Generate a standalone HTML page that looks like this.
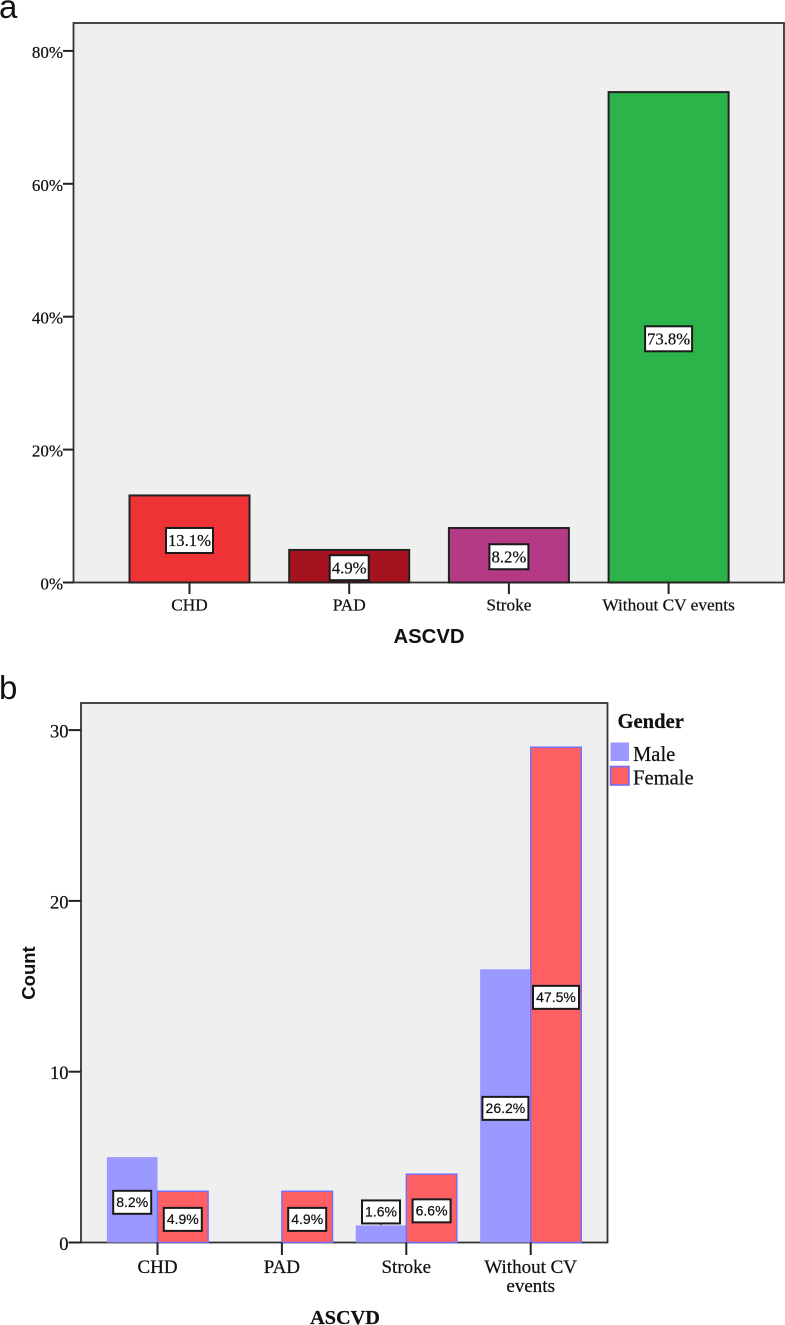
<!DOCTYPE html>
<html>
<head>
<meta charset="utf-8">
<title>ASCVD charts</title>
<style>
html,body{margin:0;padding:0;background:#fff;width:785px;height:1325px;overflow:hidden}
svg{display:block}
.serif{font-family:"Liberation Serif",serif;stroke:#111;stroke-width:.22px}
.sans{font-family:"Liberation Sans",sans-serif}
.val{stroke:#111;stroke-width:.22px}
</style>
</head>
<body>
<svg id="root" xmlns="http://www.w3.org/2000/svg" width="785" height="1325" viewBox="0 0 785 1325">
  <rect width="785" height="1325" fill="#fff"/>
  <text x="-1" y="18" class="sans" font-size="33" fill="#111">a</text>
  <text x="-1" y="699" class="sans" font-size="33" fill="#111">b</text>
  <rect x="73.5" y="23" width="710.5" height="559.5" fill="#efefef" stroke="#333" stroke-width="1.8"/>
  <rect x="81" y="703" width="526.5" height="539.5" fill="#efefef" stroke="#333" stroke-width="1.8"/>
  <g id="panelA"></g>
  <g id="panelB"></g>
  <text x="429" y="643" text-anchor="middle" class="sans" font-size="20.3" font-weight="bold" fill="#111">ASCVD</text>
  <text x="345" y="1324" text-anchor="middle" class="serif" font-size="20.3" font-weight="bold" fill="#111">ASCVD</text>
  <text transform="translate(35 973) rotate(-90)" text-anchor="middle" class="sans" font-size="18.5" font-weight="bold" fill="#111">Count</text>
  <text x="617.5" y="728" class="serif" font-size="20.6" font-weight="bold" fill="#111">Gender</text>
  <rect x="610.5" y="742.5" width="18.5" height="18.5" fill="#9b99ff"/>
  <text x="633" y="761" class="serif" font-size="20.6" fill="#111">Male</text>
  <rect x="610.5" y="766.5" width="18.5" height="18.5" fill="#fd5f63" stroke="#6f6fff" stroke-width="1.6"/>
  <text x="633" y="784.5" class="serif" font-size="20.6" fill="#111">Female</text>
</svg>
<script>
var categoriesA = ["CHD", "PAD", "Stroke", "Without CV events"];
var valuesA = [13.1, 4.9, 8.2, 73.8];
var labelsA = ["13.1%", "4.9%", "8.2%", "73.8%"];
var ticksA = [0, 20, 40, 60, 80];
var colorsA = ["#ee3336", "#a5141e", "#b53a86", "#2cb44a"];

var categoriesB = [["CHD"], ["PAD"], ["Stroke"], ["Without CV", "events"]];
var maleCounts = [5, 0, 1, 16];
var femaleCounts = [3, 3, 4, 29];
var maleLabels = ["8.2%", "", "1.6%", "26.2%"];
var femaleLabels = ["4.9%", "4.9%", "6.6%", "47.5%"];
var ticksB = [0, 10, 20, 30];

var NS = "http://www.w3.org/2000/svg";
function mk(parent, tag, attrs, text) {
  var el = document.createElementNS(NS, tag);
  for (var k in attrs) { el.setAttribute(k, attrs[k]); }
  if (text !== undefined) { el.textContent = text; }
  parent.appendChild(el);
  return el;
}
function yA(v) { return 582.5 - v * 6.645; }
function xA(i) { return 189.5 + i * 159.7; }
function yB(v) { return 1242.5 - v * 17.08; }
function xB(i) { return 157.5 + i * 124.4; }

var gA = document.getElementById("panelA");
var gB = document.getElementById("panelB");

function valueBox(g, cx, top, base, w, h, txt, cls, size, offset) {
  var cy = (top + base) / 2 + offset;
  var above = false;
  if (base - top < h) {
    cy = top - h / 2 - 2;
    above = true;
  } else if (cy + h / 2 > base - 2) {
    cy = base - 2 - h / 2;
  }
  if (above) {
    var lead = mk(g, "line", {x1: cx, x2: cx, y1: cy + h / 2, y2: top, stroke: "#222", "stroke-width": 1});
    
    
  }
  var box = mk(g, "rect", {x: cx - w / 2, y: cy - h / 2, width: w, height: h, fill: "#fff", stroke: "#1a1a1a", "stroke-width": 2});
  
  
  var t = mk(g, "text", {x: cx, y: cy + size * 0.34, "text-anchor": "middle", "class": cls + " val", "font-size": size, fill: "#111"}, txt);
  
  
}

ticksA.forEach(function (v) {
  var tick = mk(gA, "line", {x1: 63, x2: 73.5, y1: yA(v), y2: yA(v), stroke: "#222", "stroke-width": 2});
  
  
  var lab = mk(gA, "text", {x: 63, y: yA(v) + 7, "text-anchor": "end", "class": "serif", "font-size": 17, fill: "#111"}, v + "%");
  
  
});

categoriesA.forEach(function (c, i) {
  var bw = 120, top = yA(valuesA[i]), base = yA(0);
  var bar = mk(gA, "rect", {x: xA(i) - bw / 2, y: top, width: bw, height: base - top, fill: colorsA[i], stroke: "#222", "stroke-width": 2});
  
  
  var tick = mk(gA, "line", {x1: xA(i), x2: xA(i), y1: base, y2: base + 11.5, stroke: "#222", "stroke-width": 2});
  
  
  var lab = mk(gA, "text", {x: xA(i), y: 610.5, "text-anchor": "middle", "class": "serif", "font-size": 17.3, fill: "#111"}, c);
  
  
  valueBox(gA, xA(i), top, base, labelsA[i].length > 4 ? 47 : 39, 25, labelsA[i], "serif", 16.7, 1.5);
});

ticksB.forEach(function (v) {
  var tick = mk(gB, "line", {x1: 68.5, x2: 81, y1: yB(v), y2: yB(v), stroke: "#222", "stroke-width": 2});
  
  
  var lab = mk(gB, "text", {x: 68.5, y: yB(v) + 7.5, "text-anchor": "end", "class": "serif", "font-size": 18.5, fill: "#111"}, String(v));
  
  
});

categoriesB.forEach(function (c, i) {
  var bw = 50.6, base = yB(0);
  var mTop = yB(maleCounts[i]), fTop = yB(femaleCounts[i]);
  if (maleCounts[i] > 0) {
    var mBar = mk(gB, "rect", {x: xB(i) - bw, y: mTop, width: bw, height: base - mTop, fill: "#9b99ff"});
    
    
  }
  if (femaleCounts[i] > 0) {
    var fBar = mk(gB, "rect", {x: xB(i), y: fTop, width: bw, height: base - fTop, fill: "#fd5f63", stroke: "#6f6fff", "stroke-width": 1.4});
    
    
  }
  var tick = mk(gB, "line", {x1: xB(i), x2: xB(i), y1: base, y2: base + 12.5, stroke: "#222", "stroke-width": 2});
  
  
  c.forEach(function (line, j) {
    var lab = mk(gB, "text", {x: xB(i), y: 1273 + j * 19, "text-anchor": "middle", "class": "serif", "font-size": 19, fill: "#111"}, line);
    
    
  });
  if (maleLabels[i]) {
    valueBox(gB, xB(i) - bw / 2, mTop, base, maleLabels[i].length > 4 ? 46 : 38, 23, maleLabels[i], "sans", 14, 2.5);
  }
  if (femaleLabels[i]) {
    valueBox(gB, xB(i) + bw / 2, fTop, base, femaleLabels[i].length > 4 ? 46 : 38, 23, femaleLabels[i], "sans", 14, 2.5);
  }
});
</script>
</body>
</html>
